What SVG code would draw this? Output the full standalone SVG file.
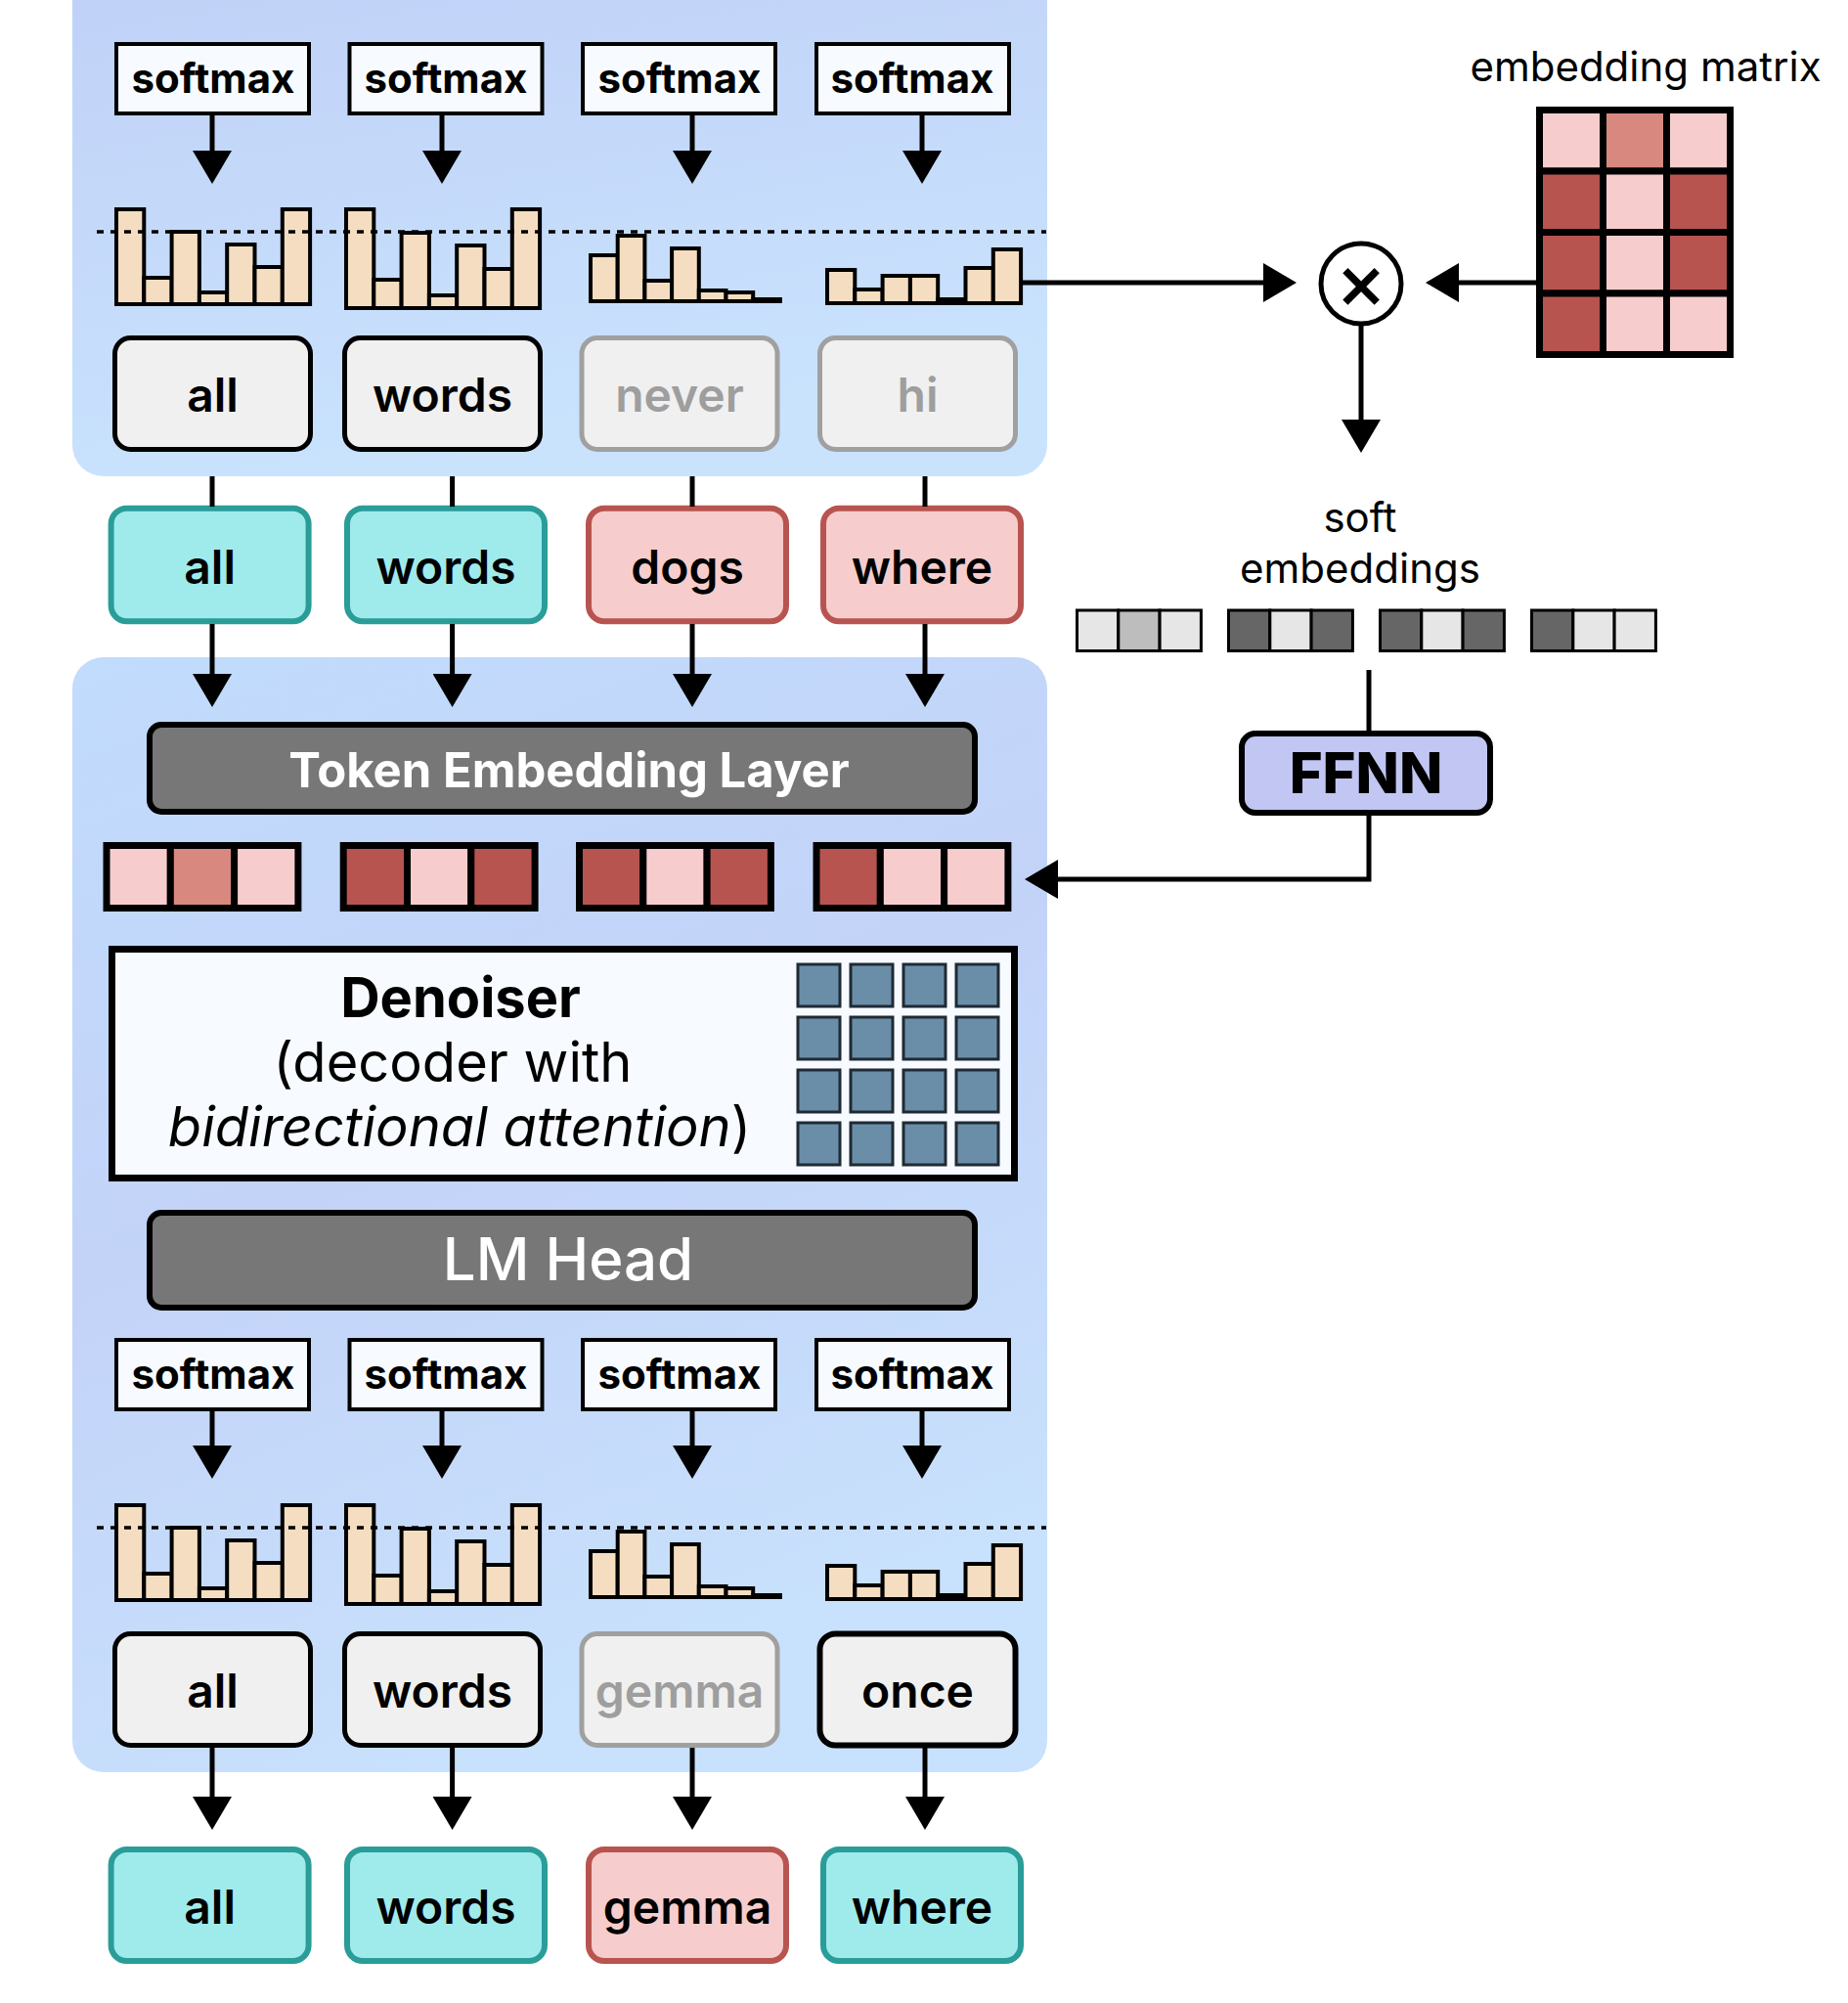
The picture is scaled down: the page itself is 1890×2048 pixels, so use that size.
<svg xmlns="http://www.w3.org/2000/svg" width="1890" height="2048" viewBox="0 0 1890 2048">
<defs>
<linearGradient id="gTop" x1="0" y1="0" x2="0.3" y2="1">
<stop offset="0" stop-color="#c0d0f7"/>
<stop offset="1" stop-color="#c9e3fd"/>
</linearGradient>
<linearGradient id="gBot" x1="0" y1="0" x2="0.35" y2="1">
<stop offset="0" stop-color="#c1dcfd"/>
<stop offset="0.5" stop-color="#c3d3f8"/>
<stop offset="1" stop-color="#c8e1fc"/>
</linearGradient>
<marker id="ah" viewBox="0 0 34 40" markerWidth="34" markerHeight="40" refX="24" refY="20" markerUnits="userSpaceOnUse" orient="auto">
<path d="M0,0 L34,20 L0,40 z" fill="#000"/>
</marker>
<style>
text{font-family:Inter,"Liberation Sans",sans-serif;text-anchor:middle}
.sm{font-size:42px;font-weight:700;fill:#000}
.smbox{fill:#f7fbff;stroke:#000;stroke-width:4}
.bar{fill:#f4ddc0;stroke:#000;stroke-width:4}
.tokbox{fill:#f0f0f0;stroke:#000;stroke-width:5}
.tokgray{fill:#f0f0f0;stroke:#a0a0a0;stroke-width:5}
.tok{font-size:48px;font-weight:600;fill:#000}
.tokg{font-size:48px;font-weight:600;fill:#9e9e9e}
.teal{fill:#9febec;stroke:#2a9d99;stroke-width:6}
.pink{fill:#f6cdcc;stroke:#b85450;stroke-width:6}
.dots{stroke:#000;stroke-width:3.5;stroke-dasharray:7 7;fill:none}
.layer{fill:#777777;stroke:#000;stroke-width:6}
.cl{fill:#f6cdcc}
.cm{fill:#d98880}
.cd{fill:#b85450}
.vec rect{stroke:#000;stroke-width:7}
.sv rect{stroke:#000;stroke-width:3}
.sl{fill:#e6e6e6}
.smid{fill:#bdbdbd}
.sd{fill:#666666}
.att{fill:#6b8ea8;stroke:#1f2a35;stroke-width:3}
.conn{stroke:#000;stroke-width:5;fill:none}
.lbl{font-size:42px;font-weight:400;fill:#000}
</style>
</defs>

<g id="panel-top"><rect x="74" y="-40" width="997" height="527" rx="32" fill="url(#gTop)"/></g>
<g id="panel-bottom"><rect x="74" y="672" width="997" height="1140" rx="32" fill="url(#gBot)"/></g>

<g id="softmax-top">
<rect class="smbox" x="119" y="45" width="197" height="71"/><text class="sm" x="218" y="95">softmax</text>
<rect class="smbox" x="357.5" y="45" width="197" height="71"/><text class="sm" x="456" y="95">softmax</text>
<rect class="smbox" x="596" y="45" width="197" height="71"/><text class="sm" x="695" y="95">softmax</text>
<rect class="smbox" x="835" y="45" width="197" height="71"/><text class="sm" x="933" y="95">softmax</text>
</g>

<g id="hist-top">
<g id="h1">
<rect class="bar" x="119" y="214" width="28.3" height="97"/>
<rect class="bar" x="147.3" y="284" width="28.3" height="27"/>
<rect class="bar" x="175.6" y="237" width="28.3" height="74"/>
<rect class="bar" x="203.9" y="299" width="28.3" height="12"/>
<rect class="bar" x="232.2" y="250" width="28.3" height="61"/>
<rect class="bar" x="260.5" y="273" width="28.3" height="38"/>
<rect class="bar" x="288.8" y="214" width="28.3" height="97"/>
</g>
<g id="h2">
<rect class="bar" x="354" y="214" width="28.3" height="101"/>
<rect class="bar" x="382.3" y="286" width="28.3" height="29"/>
<rect class="bar" x="410.6" y="238" width="28.3" height="77"/>
<rect class="bar" x="438.9" y="302" width="28.3" height="13"/>
<rect class="bar" x="467.2" y="251" width="28.3" height="64"/>
<rect class="bar" x="495.5" y="275" width="28.3" height="40"/>
<rect class="bar" x="523.8" y="214" width="28.3" height="101"/>
</g>
<g id="h3">
<rect class="bar" x="604" y="261" width="27.7" height="47"/>
<rect class="bar" x="631.7" y="241" width="27.7" height="67"/>
<rect class="bar" x="659.4" y="287" width="27.7" height="21"/>
<rect class="bar" x="687.1" y="254" width="27.7" height="54"/>
<rect class="bar" x="714.8" y="297" width="27.7" height="11"/>
<rect class="bar" x="742.5" y="299" width="27.7" height="9"/>
<rect class="bar" x="770.2" y="306" width="27.7" height="2"/>
</g>
<g id="h4">
<rect class="bar" x="846" y="276" width="28.3" height="34"/>
<rect class="bar" x="874.3" y="296" width="28.3" height="14"/>
<rect class="bar" x="902.6" y="282" width="28.3" height="28"/>
<rect class="bar" x="930.9" y="282" width="28.3" height="28"/>
<rect class="bar" x="959.2" y="306" width="28.3" height="4"/>
<rect class="bar" x="987.5" y="274" width="28.3" height="36"/>
<rect class="bar" x="1015.8" y="255" width="28.3" height="55"/>
</g>
<line class="dots" x1="99" y1="237" x2="1070" y2="237"/>
</g>

<g id="tokens-top">
<rect class="tokbox" x="117.5" y="345.5" width="200" height="114" rx="16"/><text class="tok" x="217.5" y="421">all</text>
<rect class="tokbox" x="352.5" y="345.5" width="200" height="114" rx="16"/><text class="tok" x="452.5" y="421">words</text>
<rect class="tokgray" x="595" y="345.5" width="200" height="114" rx="16"/><text class="tokg" x="695" y="421">never</text>
<rect class="tokgray" x="838.5" y="345.5" width="200" height="114" rx="16"/><text class="tokg" x="938.5" y="421">hi</text>
</g>

<g id="input-tokens">
<rect class="teal" x="113.6" y="519.7" width="202" height="115.6" rx="16"/><text class="tok" x="214.6" y="597">all</text>
<rect class="teal" x="355" y="519.7" width="202" height="115.6" rx="16"/><text class="tok" x="456" y="597">words</text>
<rect class="pink" x="602" y="519.7" width="202" height="115.6" rx="16"/><text class="tok" x="703" y="597">dogs</text>
<rect class="pink" x="842" y="519.7" width="202" height="115.6" rx="16"/><text class="tok" x="943" y="597">where</text>
</g>

<g id="token-embedding-layer">
<rect class="layer" x="153" y="741" width="844" height="89" rx="12"/>
<text x="582" y="805" style="font-size:49px;font-weight:700;fill:#fff">Token Embedding Layer</text>
</g>

<g id="embeddings">
<g class="vec" transform="translate(109,864.5)"><rect class="cl" x="0" y="0" width="65.3" height="64"/><rect class="cm" x="65.3" y="0" width="65.3" height="64"/><rect class="cl" x="130.6" y="0" width="65.3" height="64"/></g>
<g class="vec" transform="translate(351.2,864.5)"><rect class="cd" x="0" y="0" width="65.3" height="64"/><rect class="cl" x="65.3" y="0" width="65.3" height="64"/><rect class="cd" x="130.6" y="0" width="65.3" height="64"/></g>
<g class="vec" transform="translate(592.5,864.5)"><rect class="cd" x="0" y="0" width="65.3" height="64"/><rect class="cl" x="65.3" y="0" width="65.3" height="64"/><rect class="cd" x="130.6" y="0" width="65.3" height="64"/></g>
<g class="vec" transform="translate(835,864.5)"><rect class="cd" x="0" y="0" width="65.3" height="64"/><rect class="cl" x="65.3" y="0" width="65.3" height="64"/><rect class="cl" x="130.6" y="0" width="65.3" height="64"/></g>
</g>

<g id="denoiser">
<rect x="114.5" y="970.5" width="923" height="234" fill="#f7fbff" stroke="#000" stroke-width="7"/>
<text x="471" y="1040" style="font-size:56px;font-weight:700;fill:#000">Denoiser</text>
<text x="463" y="1106" style="font-size:56px;font-weight:400;fill:#000">(decoder with</text>
<text x="470" y="1172" style="font-size:56px;font-weight:400;fill:#000"><tspan font-style="italic">bidirectional attention</tspan>)</text>
<g id="attention-grid">
<rect class="att" x="816" y="986" width="43" height="43"/><rect class="att" x="870" y="986" width="43" height="43"/><rect class="att" x="924" y="986" width="43" height="43"/><rect class="att" x="978" y="986" width="43" height="43"/>
<rect class="att" x="816" y="1040" width="43" height="43"/><rect class="att" x="870" y="1040" width="43" height="43"/><rect class="att" x="924" y="1040" width="43" height="43"/><rect class="att" x="978" y="1040" width="43" height="43"/>
<rect class="att" x="816" y="1094" width="43" height="43"/><rect class="att" x="870" y="1094" width="43" height="43"/><rect class="att" x="924" y="1094" width="43" height="43"/><rect class="att" x="978" y="1094" width="43" height="43"/>
<rect class="att" x="816" y="1148" width="43" height="43"/><rect class="att" x="870" y="1148" width="43" height="43"/><rect class="att" x="924" y="1148" width="43" height="43"/><rect class="att" x="978" y="1148" width="43" height="43"/>
</g>
</g>

<g id="lm-head">
<rect class="layer" x="153" y="1240" width="844" height="97" rx="12"/>
<text x="581" y="1309" style="font-size:60px;font-weight:500;fill:#fff">LM Head</text>
</g>

<g id="softmax-bottom">
<rect class="smbox" x="119" y="1370" width="197" height="71"/><text class="sm" x="218" y="1420">softmax</text>
<rect class="smbox" x="357.5" y="1370" width="197" height="71"/><text class="sm" x="456" y="1420">softmax</text>
<rect class="smbox" x="596" y="1370" width="197" height="71"/><text class="sm" x="695" y="1420">softmax</text>
<rect class="smbox" x="835" y="1370" width="197" height="71"/><text class="sm" x="933" y="1420">softmax</text>
</g>

<g id="hist-bottom">
<use href="#h1" transform="translate(0,1325)"/>
<use href="#h2" transform="translate(0,1325)"/>
<use href="#h3" transform="translate(0,1325)"/>
<use href="#h4" transform="translate(0,1325)"/>
<line class="dots" x1="99" y1="1562" x2="1070" y2="1562"/>
</g>

<g id="tokens-bottom">
<rect class="tokbox" x="117.5" y="1670.5" width="200" height="114" rx="16"/><text class="tok" x="217.5" y="1746">all</text>
<rect class="tokbox" x="352.5" y="1670.5" width="200" height="114" rx="16"/><text class="tok" x="452.5" y="1746">words</text>
<rect class="tokgray" x="595" y="1670.5" width="200" height="114" rx="16"/><text class="tokg" x="695" y="1746">gemma</text>
<rect class="tokbox" x="838.5" y="1670.5" width="200" height="114" rx="16" style="stroke-width:6"/><text class="tok" x="938.5" y="1746">once</text>
</g>

<g id="output-tokens">
<rect class="teal" x="113.6" y="1891" width="202" height="114" rx="16"/><text class="tok" x="214.6" y="1967">all</text>
<rect class="teal" x="355" y="1891" width="202" height="114" rx="16"/><text class="tok" x="456" y="1967">words</text>
<rect class="pink" x="602" y="1891" width="202" height="114" rx="16"/><text class="tok" x="703" y="1967">gemma</text>
<rect class="teal" x="842" y="1891" width="202" height="114" rx="16"/><text class="tok" x="943" y="1967">where</text>
</g>

<g id="embedding-matrix">
<text class="lbl" x="1683" y="83">embedding matrix</text>
<g class="vec">
<rect class="cl" x="1574.5" y="112.5" width="65" height="62.5"/><rect class="cm" x="1639.5" y="112.5" width="65" height="62.5"/><rect class="cl" x="1704.5" y="112.5" width="65" height="62.5"/>
<rect class="cd" x="1574.5" y="175" width="65" height="62.5"/><rect class="cl" x="1639.5" y="175" width="65" height="62.5"/><rect class="cd" x="1704.5" y="175" width="65" height="62.5"/>
<rect class="cd" x="1574.5" y="237.5" width="65" height="62.5"/><rect class="cl" x="1639.5" y="237.5" width="65" height="62.5"/><rect class="cd" x="1704.5" y="237.5" width="65" height="62.5"/>
<rect class="cd" x="1574.5" y="300" width="65" height="62.5"/><rect class="cl" x="1639.5" y="300" width="65" height="62.5"/><rect class="cl" x="1704.5" y="300" width="65" height="62.5"/>
</g>
</g>

<g id="multiply">
<circle cx="1392" cy="290" r="41" fill="#fff" stroke="#000" stroke-width="5"/>
<text x="1392" y="313" style="font-family:'DejaVu Sans',sans-serif;font-size:64px;font-weight:700;fill:#000">×</text>
</g>

<g id="soft-embeddings">
<text class="lbl" x="1391" y="544">soft</text>
<text class="lbl" x="1391" y="596">embeddings</text>
<g class="sv" transform="translate(1101.5,624)"><rect class="sl" x="0" y="0" width="42.3" height="41.5"/><rect class="smid" x="42.3" y="0" width="42.3" height="41.5"/><rect class="sl" x="84.6" y="0" width="42.3" height="41.5"/></g>
<g class="sv" transform="translate(1256.5,624)"><rect class="sd" x="0" y="0" width="42.3" height="41.5"/><rect class="sl" x="42.3" y="0" width="42.3" height="41.5"/><rect class="sd" x="84.6" y="0" width="42.3" height="41.5"/></g>
<g class="sv" transform="translate(1411.5,624)"><rect class="sd" x="0" y="0" width="42.3" height="41.5"/><rect class="sl" x="42.3" y="0" width="42.3" height="41.5"/><rect class="sd" x="84.6" y="0" width="42.3" height="41.5"/></g>
<g class="sv" transform="translate(1566.5,624)"><rect class="sd" x="0" y="0" width="42.3" height="41.5"/><rect class="sl" x="42.3" y="0" width="42.3" height="41.5"/><rect class="sl" x="84.6" y="0" width="42.3" height="41.5"/></g>
</g>

<g id="ffnn">
<rect x="1270" y="750" width="254" height="81" rx="14" fill="#c1c6f3" stroke="#000" stroke-width="6"/>
<text x="1397" y="811" style="font-size:58px;font-weight:800;fill:#000">FFNN</text>
</g>

<g id="connectors">
<line class="conn" x1="217" y1="118" x2="217" y2="178" marker-end="url(#ah)"/>
<line class="conn" x1="452" y1="118" x2="452" y2="178" marker-end="url(#ah)"/>
<line class="conn" x1="708" y1="118" x2="708" y2="178" marker-end="url(#ah)"/>
<line class="conn" x1="943" y1="118" x2="943" y2="178" marker-end="url(#ah)"/>
<line class="conn" x1="217" y1="487" x2="217" y2="518"/>
<line class="conn" x1="462.6" y1="487" x2="462.6" y2="518"/>
<line class="conn" x1="708" y1="487" x2="708" y2="518"/>
<line class="conn" x1="946" y1="487" x2="946" y2="518"/>
<line class="conn" x1="217" y1="638" x2="217" y2="713" marker-end="url(#ah)"/>
<line class="conn" x1="462.6" y1="638" x2="462.6" y2="713" marker-end="url(#ah)"/>
<line class="conn" x1="708" y1="638" x2="708" y2="713" marker-end="url(#ah)"/>
<line class="conn" x1="946" y1="638" x2="946" y2="713" marker-end="url(#ah)"/>
<line class="conn" x1="217" y1="1443" x2="217" y2="1502" marker-end="url(#ah)"/>
<line class="conn" x1="452" y1="1443" x2="452" y2="1502" marker-end="url(#ah)"/>
<line class="conn" x1="708" y1="1443" x2="708" y2="1502" marker-end="url(#ah)"/>
<line class="conn" x1="943" y1="1443" x2="943" y2="1502" marker-end="url(#ah)"/>
<line class="conn" x1="217" y1="1787" x2="217" y2="1861" marker-end="url(#ah)"/>
<line class="conn" x1="462.6" y1="1787" x2="462.6" y2="1861" marker-end="url(#ah)"/>
<line class="conn" x1="708" y1="1787" x2="708" y2="1861" marker-end="url(#ah)"/>
<line class="conn" x1="946" y1="1787" x2="946" y2="1861" marker-end="url(#ah)"/>
<line class="conn" x1="1046" y1="289" x2="1316" y2="289" marker-end="url(#ah)"/>
<line class="conn" x1="1571" y1="289" x2="1468" y2="289" marker-end="url(#ah)"/>
<line class="conn" x1="1392" y1="333" x2="1392" y2="453" marker-end="url(#ah)"/>
<line class="conn" x1="1400" y1="685" x2="1400" y2="748"/>
<polyline class="conn" points="1400,834 1400,899 1058,899" marker-end="url(#ah)"/>
</g>
</svg>
